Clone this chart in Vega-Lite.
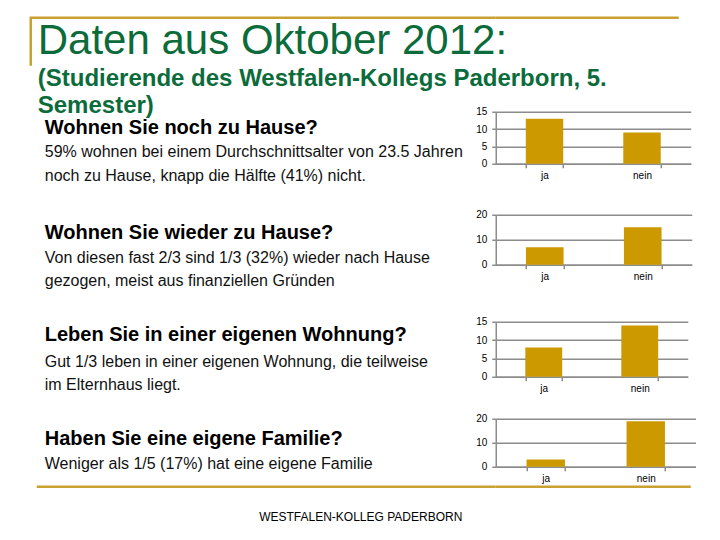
{
  "$schema": "https://vega.github.io/schema/vega-lite/v6.json",
  "background": "white",
  "padding": {"left": 28.75, "top": 15.75, "right": 0, "bottom": 0},
  "columns": 2,
  "spacing": {"row": 0, "column": 0},
  "bounds": "flush",
  "datasets": {
    "noch": [{"antwort": "ja", "anzahl": 13}, {"antwort": "nein", "anzahl": 9}],
    "wieder": [{"antwort": "ja", "anzahl": 7}, {"antwort": "nein", "anzahl": 15}],
    "wohnung": [{"antwort": "ja", "anzahl": 8}, {"antwort": "nein", "anzahl": 14}],
    "familie": [{"antwort": "ja", "anzahl": 3}, {"antwort": "nein", "anzahl": 19}]
  },
  "concat": [
    {
      "width": 465, "height": 94,
      "view": {"stroke": "#C9A131", "strokeWidth": 2.5, "strokeDash": [465, 605, 48]},
      "data": {"values": []},
      "mark": "text",
      "title": {
        "text": "Daten aus Oktober 2012:",
        "subtitle": ["(Studierende des Westfalen-Kollegs Paderborn, 5.", "Semester)"],
        "orient": "bottom", "anchor": "start", "frame": "group",
        "offset": -91, "dx": 7,
        "fontSize": 42, "fontWeight": "normal", "color": "#0B6B3A",
        "subtitleFontSize": 24, "subtitleFontWeight": "bold", "subtitleColor": "#0B6B3A",
        "subtitleLineHeight": 26.7, "subtitlePadding": 4.2
      }
    },
    {
      "width": 183, "height": 94,
      "view": {"stroke": "#C9A131", "strokeWidth": 2.5, "strokeDash": [183, 2000]},
      "data": {"values": []},
      "mark": "text"
    },
    {
      "width": 465, "height": 103,
      "data": {"values": []},
      "mark": "text",
      "title": {
        "text": "Wohnen Sie noch zu Hause?",
        "subtitle": ["59% wohnen bei einem Durchschnittsalter von 23.5 Jahren", "noch zu Hause, knapp die Hälfte (41%) nicht."],
        "orient": "bottom", "anchor": "start", "frame": "group",
        "offset": -96.8, "dx": 14, "subtitlePadding": 6.2
      }
    },
    {
      "width": 195, "height": 52,
      "data": {"name": "noch"},
      "mark": {"type": "bar", "color": "#CC9900"},
      "encoding": {
        "x": {"field": "antwort", "type": "nominal", "sort": null, "scale": {"paddingInner": 0.616, "paddingOuter": 0.308}, "axis": {"title": null, "labelAngle": 0, "tickBand": "extent"}},
        "y": {"field": "anzahl", "type": "quantitative", "scale": {"domain": [0, 15], "nice": false}, "axis": {"title": null, "values": [0, 5, 10, 15]}}
      }
    },
    {
      "width": 465, "height": 107,
      "data": {"values": []},
      "mark": "text",
      "title": {
        "text": "Wohnen Sie wieder zu Hause?",
        "subtitle": ["Von diesen fast 2/3 sind 1/3 (32%) wieder nach Hause", "gezogen, meist aus finanziellen Gründen"],
        "orient": "bottom", "anchor": "start", "frame": "group",
        "offset": -99, "dx": 14, "subtitlePadding": 6.9
      }
    },
    {
      "width": 196, "height": 50,
      "data": {"name": "wieder"},
      "mark": {"type": "bar", "color": "#CC9900"},
      "encoding": {
        "x": {"field": "antwort", "type": "nominal", "sort": null, "scale": {"paddingInner": 0.616, "paddingOuter": 0.308}, "axis": {"title": null, "labelAngle": 0, "tickBand": "extent"}},
        "y": {"field": "anzahl", "type": "quantitative", "scale": {"domain": [0, 20], "nice": false}, "axis": {"title": null, "values": [0, 10, 20]}}
      }
    },
    {
      "width": 465, "height": 97,
      "data": {"values": []},
      "mark": "text",
      "title": {
        "text": "Leben Sie in einer eigenen Wohnung?",
        "subtitle": ["Gut 1/3 leben in einer eigenen Wohnung, die teilweise", "im Elternhaus liegt."],
        "orient": "bottom", "anchor": "start", "frame": "group",
        "offset": -93.6, "dx": 14, "subtitlePadding": 8.7
      }
    },
    {
      "width": 192, "height": 55,
      "data": {"name": "wohnung"},
      "mark": {"type": "bar", "color": "#CC9900"},
      "encoding": {
        "x": {"field": "antwort", "type": "nominal", "sort": null, "scale": {"paddingInner": 0.616, "paddingOuter": 0.308}, "axis": {"title": null, "labelAngle": 0, "tickBand": "extent"}},
        "y": {"field": "anzahl", "type": "quantitative", "scale": {"domain": [0, 15], "nice": false}, "axis": {"title": null, "values": [0, 5, 10, 15]}}
      }
    },
    {
      "width": 465, "height": 68,
      "data": {"values": []},
      "mark": "text",
      "title": {
        "text": "Haben Sie eine eigene Familie?",
        "subtitle": ["Weniger als 1/5 (17%) hat eine eigene Familie"],
        "orient": "bottom", "anchor": "start", "frame": "group",
        "offset": -57.8, "dx": 14, "subtitlePadding": 7
      }
    },
    {
      "width": 200, "height": 48,
      "data": {"name": "familie"},
      "mark": {"type": "bar", "color": "#CC9900"},
      "encoding": {
        "x": {"field": "antwort", "type": "nominal", "sort": null, "scale": {"paddingInner": 0.616, "paddingOuter": 0.308}, "axis": {"title": null, "labelAngle": 0, "tickBand": "extent"}},
        "y": {"field": "anzahl", "type": "quantitative", "scale": {"domain": [0, 20], "nice": false}, "axis": {"title": null, "values": [0, 10, 20]}}
      }
    },
    {
      "width": 465, "height": 20,
      "view": {"stroke": "#C9A131", "strokeWidth": 2.5, "strokeDash": [0, 6, 459, 2000]},
      "data": {"values": []},
      "mark": "text",
      "title": {
        "text": "WESTFALEN-KOLLEG PADERBORN",
        "orient": "bottom", "anchor": "middle", "frame": "group",
        "offset": 5, "dx": 97.5,
        "fontSize": 12, "fontWeight": "normal", "color": "#000000"
      }
    },
    {
      "width": 195, "height": 20,
      "view": {"stroke": "#C9A131", "strokeWidth": 2.5, "strokeDash": [195, 2000]},
      "data": {"values": []},
      "mark": "text"
    }
  ],
  "config": {
    "view": {"stroke": null},
    "title": {
      "font": "Liberation Sans", "subtitleFont": "Liberation Sans",
      "fontSize": 20, "fontWeight": "bold", "color": "#000000",
      "subtitleFontSize": 16, "subtitleFontWeight": "normal", "subtitleColor": "#111111",
      "subtitleLineHeight": 23.5
    },
    "axis": {
      "labelFont": "Liberation Sans", "labelFontSize": 10, "labelColor": "#000000",
      "domainColor": "#8C8C8C", "domainWidth": 1.5,
      "tickColor": "#8C8C8C", "tickWidth": 1.5, "tickSize": 4,
      "gridColor": "#8C8C8C", "gridWidth": 1.5,
      "labelPadding": 3
    },
    "axisX": {"grid": false},
    "axisY": {"grid": true, "labelPadding": 5}
  }
}
